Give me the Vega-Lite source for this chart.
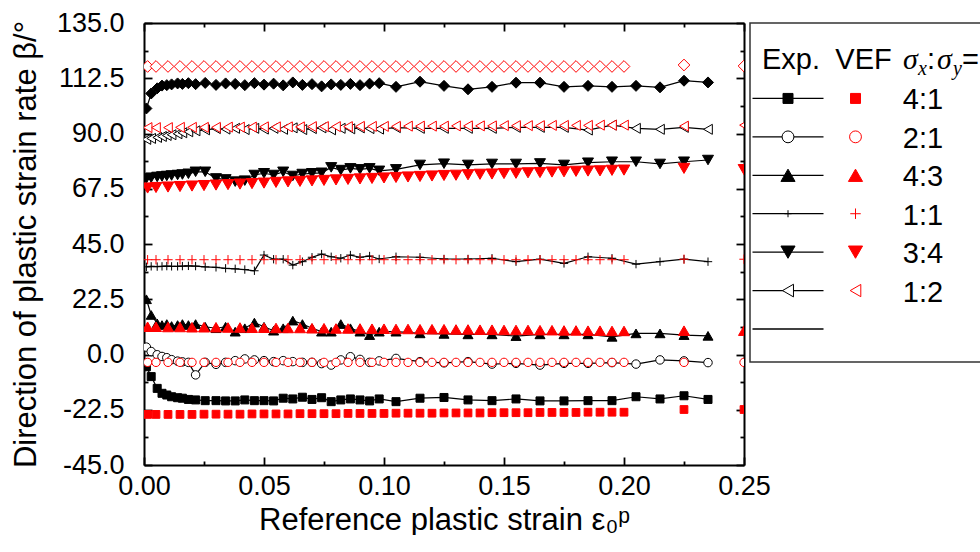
{
"$schema": "https://vega.github.io/schema/vega-lite/v6.json",
"background": "white",
"padding": {"left": 10, "top": 9, "right": 0, "bottom": 0},
"spacing": 6,
"bounds": "flush",
"config": {
  "view": {"stroke": null},
  "font": "Liberation Sans",
  "axis": {"domainColor": "black", "domainWidth": 2, "tickColor": "black", "tickWidth": 1.8, "grid": false,
           "labelFont": "Liberation Sans", "labelFontSize": 27, "labelColor": "black",
           "titleFont": "Liberation Sans", "titleFontSize": 31, "titleFontWeight": "normal", "titleColor": "black",
           "labelOverlap": false, "labelFlush": false, "zindex": 1},
  "text": {"font": "Liberation Sans", "color": "black"}
},
"datasets": {
  "exp": [
    {"x":0.001,"4:1":-5,"2:1":3.0,"4:3":22.5,"1:1":35.7,"3:4":71.7,"1:2":87.6,"other":100.2},
    {"x":0.003,"4:1":-9.0,"2:1":1.2,"4:3":16.1,"1:1":35.9,"3:4":72.0,"1:2":88.0,"other":106.3},
    {"x":0.0055,"4:1":-13.8,"2:1":-0.1,"4:3":12.7,"1:1":35.8,"3:4":72.3,"1:2":88.4,"other":108.4},
    {"x":0.0075,"4:1":-15.8,"2:1":-0.8,"4:3":12.0,"1:1":35.9,"3:4":72.5,"1:2":88.8,"other":109.5},
    {"x":0.0095,"4:1":-16.5,"2:1":-1.3,"4:3":12.4,"1:1":36.0,"3:4":72.7,"1:2":89.2,"other":109.7},
    {"x":0.0115,"4:1":-17.2,"2:1":-2.1,"4:3":11.6,"1:1":35.9,"3:4":72.9,"1:2":89.5,"other":110.0},
    {"x":0.014,"4:1":-17.6,"2:1":-2.7,"4:3":12.0,"1:1":35.9,"3:4":73.1,"1:2":89.9,"other":110.4},
    {"x":0.016,"4:1":-17.8,"2:1":-3.0,"4:3":12.4,"1:1":36.0,"3:4":73.3,"1:2":90.3,"other":110.2},
    {"x":0.0185,"4:1":-18.3,"2:1":-3.2,"4:3":12.0,"1:1":36.1,"3:4":73.6,"1:2":90.7,"other":110.5},
    {"x":0.0215,"4:1":-18.5,"2:1":-8.3,"4:3":12.4,"1:1":36.0,"3:4":74.4,"1:2":91.1,"other":110.1},
    {"x":0.0255,"4:1":-18.8,"2:1":-3.2,"4:3":11.3,"1:1":35.7,"3:4":74.4,"1:2":91.5,"other":110.6},
    {"x":0.030,"4:1":-18.8,"2:1":-4.0,"4:3":10.7,"1:1":35.5,"3:4":71.7,"1:2":92.0,"other":109.8},
    {"x":0.034,"4:1":-18.9,"2:1":-3.2,"4:3":11.3,"1:1":35.1,"3:4":71.3,"1:2":91.8,"other":110.4},
    {"x":0.038,"4:1":-18.9,"2:1":-2.5,"4:3":9.3,"1:1":34.9,"3:4":70.4,"1:2":92.1,"other":110.2},
    {"x":0.042,"4:1":-18.5,"2:1":-1.8,"4:3":10.7,"1:1":34.6,"3:4":70.8,"1:2":91.6,"other":109.7},
    {"x":0.046,"4:1":-18.8,"2:1":-2.2,"4:3":13.0,"1:1":34.1,"3:4":73.1,"1:2":92.1,"other":110.5},
    {"x":0.050,"4:1":-18.8,"2:1":-2.5,"4:3":11.3,"1:1":40.5,"3:4":73.8,"1:2":91.8,"other":109.9},
    {"x":0.054,"4:1":-18.9,"2:1":-2.9,"4:3":9.7,"1:1":38.8,"3:4":73.1,"1:2":92.1,"other":110.3},
    {"x":0.058,"4:1":-17.8,"2:1":-2.5,"4:3":10.7,"1:1":38.8,"3:4":74.4,"1:2":91.7,"other":109.6},
    {"x":0.062,"4:1":-18.1,"2:1":-2.9,"4:3":13.8,"1:1":36.4,"3:4":72.7,"1:2":92.3,"other":110.8},
    {"x":0.066,"4:1":-17.4,"2:1":-3.2,"4:3":12.4,"1:1":37.8,"3:4":73.5,"1:2":91.6,"other":109.8},
    {"x":0.070,"4:1":-18.3,"2:1":-3.2,"4:3":10.7,"1:1":39.6,"3:4":73.8,"1:2":92.0,"other":110.1},
    {"x":0.074,"4:1":-17.6,"2:1":-3.7,"4:3":9.3,"1:1":40.9,"3:4":74.0,"1:2":92.3,"other":109.2},
    {"x":0.078,"4:1":-19.2,"2:1":-4.3,"4:3":9.3,"1:1":39.8,"3:4":76.2,"1:2":91.5,"other":110.0},
    {"x":0.082,"4:1":-18.5,"2:1":-2.2,"4:3":12.4,"1:1":39.2,"3:4":75.1,"1:2":92.1,"other":109.8},
    {"x":0.086,"4:1":-18.1,"2:1":-0.9,"4:3":10.7,"1:1":40.5,"3:4":75.8,"1:2":91.9,"other":110.2},
    {"x":0.090,"4:1":-18.5,"2:1":-2.0,"4:3":9.3,"1:1":39.6,"3:4":75.4,"1:2":92.3,"other":109.7},
    {"x":0.094,"4:1":-18.9,"2:1":-3.2,"4:3":7.9,"1:1":40.1,"3:4":75.8,"1:2":92.0,"other":110.3},
    {"x":0.098,"4:1":-18.1,"2:1":-2.6,"4:3":9.3,"1:1":38.9,"3:4":74.8,"1:2":91.8,"other":110.5},
    {"x":0.105,"4:1":-19.2,"2:1":-1.6,"4:3":9.3,"1:1":39.8,"3:4":75.4,"1:2":92.4,"other":109.0},
    {"x":0.115,"4:1":-17.8,"2:1":-2.9,"4:3":8.6,"1:1":39.6,"3:4":77.2,"1:2":92.1,"other":111.1},
    {"x":0.125,"4:1":-17.5,"2:1":-3.4,"4:3":8.4,"1:1":38.9,"3:4":77.7,"1:2":92.1,"other":109.4},
    {"x":0.135,"4:1":-18.5,"2:1":-2.9,"4:3":8.2,"1:1":38.9,"3:4":77.2,"1:2":92.1,"other":108.0},
    {"x":0.145,"4:1":-18.8,"2:1":-3.9,"4:3":8.2,"1:1":39.2,"3:4":77.6,"1:2":92.1,"other":109.0},
    {"x":0.155,"4:1":-18.1,"2:1":-3.6,"4:3":7.5,"1:1":37.8,"3:4":77.6,"1:2":92.5,"other":110.7},
    {"x":0.165,"4:1":-18.9,"2:1":-4.3,"4:3":8.2,"1:1":38.8,"3:4":77.8,"1:2":92.5,"other":110.7},
    {"x":0.175,"4:1":-18.9,"2:1":-3.6,"4:3":8.2,"1:1":37.1,"3:4":77.2,"1:2":92.5,"other":109.0},
    {"x":0.185,"4:1":-18.8,"2:1":-3.6,"4:3":8.2,"1:1":39.8,"3:4":78.1,"1:2":91.4,"other":109.4},
    {"x":0.195,"4:1":-18.8,"2:1":-3.3,"4:3":7.2,"1:1":39.2,"3:4":78.5,"1:2":93.4,"other":109.0},
    {"x":0.205,"4:1":-17.2,"2:1":-3.9,"4:3":8.6,"1:1":36.8,"3:4":78.5,"1:2":92.1,"other":109.4},
    {"x":0.215,"4:1":-18.1,"2:1":-2.2,"4:3":8.6,"1:1":37.8,"3:4":77.6,"1:2":91.7,"other":108.8},
    {"x":0.225,"4:1":-16.8,"2:1":-2.6,"4:3":7.9,"1:1":38.8,"3:4":78.5,"1:2":92.5,"other":111.5},
    {"x":0.235,"4:1":-18.3,"2:1":-3.3,"4:3":7.6,"1:1":37.8,"3:4":79.2,"1:2":91.7,"other":110.8}
  ],
  "vef": [
    {"x":0.0015,"4:1":-24.4,"2:1":-3.2,"4:3":11.3,"1:1":38.6,"3:4":67.8,"1:2":92.4,"other":117.3},
    {"x":0.005,"4:1":-24.4,"2:1":-3.2,"4:3":11.3,"1:1":38.6,"3:4":68.0,"1:2":92.4,"other":117.3},
    {"x":0.01,"4:1":-24.4,"2:1":-3.2,"4:3":11.2,"1:1":38.6,"3:4":68.2,"1:2":92.4,"other":117.3},
    {"x":0.015,"4:1":-24.4,"2:1":-3.2,"4:3":11.2,"1:1":38.6,"3:4":68.4,"1:2":92.5,"other":117.3},
    {"x":0.02,"4:1":-24.4,"2:1":-3.2,"4:3":11.1,"1:1":38.6,"3:4":68.6,"1:2":92.5,"other":117.3},
    {"x":0.025,"4:1":-24.3,"2:1":-3.2,"4:3":11.1,"1:1":38.6,"3:4":68.8,"1:2":92.5,"other":117.3},
    {"x":0.03,"4:1":-24.3,"2:1":-3.2,"4:3":11.1,"1:1":38.6,"3:4":69.0,"1:2":92.5,"other":117.3},
    {"x":0.035,"4:1":-24.3,"2:1":-3.2,"4:3":11.0,"1:1":38.6,"3:4":69.2,"1:2":92.6,"other":117.3},
    {"x":0.04,"4:1":-24.3,"2:1":-3.2,"4:3":11.0,"1:1":38.6,"3:4":69.4,"1:2":92.6,"other":117.3},
    {"x":0.045,"4:1":-24.2,"2:1":-3.2,"4:3":10.9,"1:1":38.6,"3:4":69.6,"1:2":92.6,"other":117.3},
    {"x":0.05,"4:1":-24.2,"2:1":-3.2,"4:3":10.9,"1:1":38.6,"3:4":69.8,"1:2":92.7,"other":117.3},
    {"x":0.055,"4:1":-24.2,"2:1":-3.2,"4:3":10.8,"1:1":38.6,"3:4":70.1,"1:2":92.7,"other":117.3},
    {"x":0.06,"4:1":-24.2,"2:1":-3.2,"4:3":10.8,"1:1":38.6,"3:4":70.3,"1:2":92.7,"other":117.3},
    {"x":0.065,"4:1":-24.1,"2:1":-3.2,"4:3":10.8,"1:1":38.6,"3:4":70.5,"1:2":92.7,"other":117.3},
    {"x":0.07,"4:1":-24.1,"2:1":-3.2,"4:3":10.7,"1:1":38.6,"3:4":70.7,"1:2":92.8,"other":117.3},
    {"x":0.075,"4:1":-24.1,"2:1":-3.2,"4:3":10.7,"1:1":38.6,"3:4":70.9,"1:2":92.8,"other":117.3},
    {"x":0.08,"4:1":-24.1,"2:1":-3.2,"4:3":10.6,"1:1":38.6,"3:4":71.1,"1:2":92.8,"other":117.3},
    {"x":0.085,"4:1":-24.0,"2:1":-3.2,"4:3":10.6,"1:1":38.6,"3:4":71.3,"1:2":92.8,"other":117.3},
    {"x":0.09,"4:1":-24.0,"2:1":-3.2,"4:3":10.6,"1:1":38.6,"3:4":71.5,"1:2":92.9,"other":117.3},
    {"x":0.095,"4:1":-24.0,"2:1":-3.2,"4:3":10.5,"1:1":38.6,"3:4":71.7,"1:2":92.9,"other":117.3},
    {"x":0.1,"4:1":-24.0,"2:1":-3.2,"4:3":10.5,"1:1":38.6,"3:4":71.9,"1:2":92.9,"other":117.3},
    {"x":0.105,"4:1":-23.9,"2:1":-3.2,"4:3":10.4,"1:1":38.6,"3:4":72.1,"1:2":92.9,"other":117.3},
    {"x":0.11,"4:1":-23.9,"2:1":-3.2,"4:3":10.4,"1:1":38.6,"3:4":72.3,"1:2":93.0,"other":117.3},
    {"x":0.115,"4:1":-23.9,"2:1":-3.2,"4:3":10.3,"1:1":38.6,"3:4":72.5,"1:2":93.0,"other":117.3},
    {"x":0.12,"4:1":-23.9,"2:1":-3.2,"4:3":10.3,"1:1":38.6,"3:4":72.7,"1:2":93.0,"other":117.3},
    {"x":0.125,"4:1":-23.8,"2:1":-3.2,"4:3":10.3,"1:1":38.6,"3:4":72.9,"1:2":93.0,"other":117.3},
    {"x":0.13,"4:1":-23.8,"2:1":-3.2,"4:3":10.2,"1:1":38.6,"3:4":73.0,"1:2":93.1,"other":117.3},
    {"x":0.135,"4:1":-23.8,"2:1":-3.2,"4:3":10.2,"1:1":38.6,"3:4":73.2,"1:2":93.1,"other":117.3},
    {"x":0.14,"4:1":-23.8,"2:1":-3.2,"4:3":10.1,"1:1":38.6,"3:4":73.4,"1:2":93.1,"other":117.3},
    {"x":0.145,"4:1":-23.7,"2:1":-3.2,"4:3":10.1,"1:1":38.6,"3:4":73.5,"1:2":93.1,"other":117.3},
    {"x":0.15,"4:1":-23.7,"2:1":-3.2,"4:3":10.0,"1:1":38.6,"3:4":73.7,"1:2":93.2,"other":117.3},
    {"x":0.155,"4:1":-23.7,"2:1":-3.2,"4:3":10.0,"1:1":38.6,"3:4":73.8,"1:2":93.2,"other":117.3},
    {"x":0.16,"4:1":-23.7,"2:1":-3.2,"4:3":10.0,"1:1":38.6,"3:4":74.0,"1:2":93.2,"other":117.3},
    {"x":0.165,"4:1":-23.6,"2:1":-3.2,"4:3":9.9,"1:1":38.6,"3:4":74.1,"1:2":93.2,"other":117.3},
    {"x":0.17,"4:1":-23.6,"2:1":-3.2,"4:3":9.9,"1:1":38.6,"3:4":74.3,"1:2":93.3,"other":117.3},
    {"x":0.175,"4:1":-23.6,"2:1":-3.2,"4:3":9.8,"1:1":38.6,"3:4":74.4,"1:2":93.3,"other":117.3},
    {"x":0.18,"4:1":-23.6,"2:1":-3.2,"4:3":9.8,"1:1":38.6,"3:4":74.6,"1:2":93.3,"other":117.3},
    {"x":0.185,"4:1":-23.5,"2:1":-3.2,"4:3":9.7,"1:1":38.6,"3:4":74.7,"1:2":93.3,"other":117.3},
    {"x":0.19,"4:1":-23.5,"2:1":-3.2,"4:3":9.7,"1:1":38.6,"3:4":74.8,"1:2":93.4,"other":117.3},
    {"x":0.195,"4:1":-23.5,"2:1":-3.2,"4:3":9.6,"1:1":38.6,"3:4":75.0,"1:2":93.4,"other":117.3},
    {"x":0.2,"4:1":-23.5,"2:1":-3.2,"4:3":9.6,"1:1":38.6,"3:4":75.1,"1:2":93.4,"other":117.3},
    {"x":0.225,"4:1":-22.4,"2:1":-3.2,"4:3":9.7,"1:1":38.8,"3:4":75.8,"1:2":93.0,"other":117.9},
    {"x":0.25,"4:1":-22.4,"2:1":-3.2,"4:3":9.7,"1:1":38.8,"3:4":75.3,"1:2":93.4,"other":117.5}
  ],
  "leg": [
    {"r":"4:1"},{"r":"2:1"},{"r":"4:3"},{"r":"1:1"},{"r":"3:4"},{"r":"1:2"},{"r":"other"}
  ]
},
"hconcat": [
  {
    "width": 600, "height": 442,
    "layer": [
      {
        "data": {"name": "exp"},
        "transform": [{"fold": ["4:1","2:1","4:3","1:1","3:4","1:2","other"], "as": ["r","beta"]}],
        "mark": {"type": "line", "color": "black", "strokeWidth": 1.2, "clip": true},
        "encoding": {
          "x": {"field": "x", "type": "quantitative", "scale": {"domain": [0,0.25], "nice": false, "zero": false},
                "axis": {"orient": "bottom", "values": [0,0.025,0.05,0.075,0.1,0.125,0.15,0.175,0.2,0.225,0.25],
                         "labelExpr": "abs(datum.value*20-round(datum.value*20))<0.001 ? format(datum.value,'.2f') : ''",
                         "tickSize": {"condition": {"test": "abs(datum.value*20-round(datum.value*20))<0.001", "value": -8}, "value": -4},
                         "labelPadding": 16, "title": "Reference plastic strain ε₀ᵖ", "titlePadding": 2}},
          "y": {"field": "beta", "type": "quantitative", "scale": {"domain": [-45,135], "nice": false, "zero": false},
                "axis": {"orient": "left", "values": [-45,-33.75,-22.5,-11.25,0,11.25,22.5,33.75,45,56.25,67.5,78.75,90,101.25,112.5,123.75,135],
                         "labelExpr": "abs(datum.value/22.5-round(datum.value/22.5))<0.001 ? replace(format(datum.value,'.1f'),'−','-') : ''",
                         "tickSize": {"condition": {"test": "abs(datum.value/22.5-round(datum.value/22.5))<0.001", "value": -8}, "value": -4},
                         "labelPadding": 28, "title": "Direction of plastic strain rate β/°", "titlePadding": 14}},
          "detail": {"field": "r", "type": "nominal"}
        }
      },
      {
        "data": {"name": "exp"},
        "transform": [{"fold": ["4:1","2:1","4:3","1:1","3:4","1:2","other"], "as": ["r","beta"]}],
        "mark": {"type": "point", "filled": true, "stroke": "black", "strokeWidth": 1, "opacity": 1, "clip": true},
        "encoding": {
          "x": {"field": "x", "type": "quantitative", "scale": {"domain": [0,0.25], "nice": false, "zero": false}, "axis": null},
          "y": {"field": "beta", "type": "quantitative", "scale": {"domain": [-45,135], "nice": false, "zero": false}, "axis": null},
          "shape": {"field": "r", "type": "nominal", "legend": null, "scale": {"domain": ["4:1","2:1","4:3","1:1","3:4","1:2","other"], "range": ["square","circle","triangle-up","M-1,0H1M0,-1V1","triangle-down","triangle-left","diamond"]}},
          "fill": {"field": "r", "type": "nominal", "legend": null, "scale": {"domain": ["4:1","2:1","4:3","1:1","3:4","1:2","other"], "range": ["black","white","black","transparent","black","white","black"]}},
          "size": {"field": "r", "type": "nominal", "legend": null, "scale": {"type": "ordinal", "domain": ["4:1","2:1","4:3","1:1","3:4","1:2","other"], "range": [64,72,100,70,121,100,121]}}
        }
      },
      {
        "data": {"name": "vef"},
        "transform": [{"fold": ["4:1","2:1","4:3","1:1","3:4","1:2","other"], "as": ["r","beta"]}],
        "mark": {"type": "point", "filled": true, "stroke": "red", "strokeWidth": 1, "opacity": 1, "clip": true},
        "encoding": {
          "x": {"field": "x", "type": "quantitative", "scale": {"domain": [0,0.25], "nice": false, "zero": false}, "axis": null},
          "y": {"field": "beta", "type": "quantitative", "scale": {"domain": [-45,135], "nice": false, "zero": false}, "axis": null},
          "shape": {"field": "r", "type": "nominal", "legend": null, "scale": {"domain": ["4:1","2:1","4:3","1:1","3:4","1:2","other"], "range": ["square","circle","triangle-up","M-1,0H1M0,-1V1","triangle-down","triangle-left","diamond"]}},
          "fill": {"field": "r", "type": "nominal", "legend": null, "scale": {"domain": ["4:1","2:1","4:3","1:1","3:4","1:2","other"], "range": ["red","white","red","transparent","red","white","white"]}},
          "size": {"field": "r", "type": "nominal", "legend": null, "scale": {"type": "ordinal", "domain": ["4:1","2:1","4:3","1:1","3:4","1:2","other"], "range": [60,70,121,87,137,100,137]}}
        }
      },
      {
        "data": {"name": "vef"},
        "mark": {"type": "point", "opacity": 0},
        "encoding": {
          "x": {"field": "x", "type": "quantitative", "scale": {"domain": [0,0.25], "nice": false, "zero": false},
                "axis": {"orient": "top", "values": [0,0.025,0.05,0.075,0.1,0.125,0.15,0.175,0.2,0.225,0.25], "labels": false, "title": null, "minExtent": 0,
                         "tickSize": {"condition": {"test": "abs(datum.value*20-round(datum.value*20))<0.001", "value": -8}, "value": -4}}},
          "y": {"field": "1:1", "type": "quantitative", "scale": {"domain": [-45,135], "nice": false, "zero": false},
                "axis": {"orient": "right", "values": [-45,-33.75,-22.5,-11.25,0,11.25,22.5,33.75,45,56.25,67.5,78.75,90,101.25,112.5,123.75,135], "labels": false, "title": null, "minExtent": 0,
                         "tickSize": {"condition": {"test": "abs(datum.value/22.5-round(datum.value/22.5))<0.001", "value": -8}, "value": -4}}}
        }
      }
    ],
    "resolve": {"axis": {"x": "independent", "y": "independent"}, "scale": {"fill": "independent", "size": "independent"}}
  },
  {
    "width": 240, "height": 339,
    "view": {"stroke": "#333333", "strokeWidth": 1.5},
    "data": {"name": "leg"},
    "encoding": {
      "y": {"field": "r", "type": "nominal", "axis": null, "scale": {"type": "point", "domain": ["head","4:1","2:1","4:3","1:1","3:4","1:2","other"], "range": [37,306], "padding": 0}}
    },
    "layer": [
      {
        "mark": {"type": "tick", "orient": "horizontal", "size": 71, "thickness": 1.3, "color": "black", "opacity": 1},
        "encoding": {"x": {"datum": "Exp", "type": "nominal", "axis": null, "scale": {"type": "point", "domain": ["Exp","VEF","label"], "range": [38,173], "padding": 0}}}
      },
      {
        "transform": [{"filter": "datum.r !== 'other'"}],
        "mark": {"type": "point", "filled": true, "stroke": "black", "strokeWidth": 1, "opacity": 1},
        "encoding": {
          "x": {"datum": "Exp", "type": "nominal", "axis": null, "scale": {"type": "point", "domain": ["Exp","VEF","label"], "range": [38,173], "padding": 0}},
          "shape": {"field": "r", "type": "nominal", "legend": null, "scale": {"domain": ["4:1","2:1","4:3","1:1","3:4","1:2","other"], "range": ["square","circle","triangle-up","M-1,0H1M0,-1V1","triangle-down","triangle-left","diamond"]}},
          "fill": {"field": "r", "type": "nominal", "legend": null, "scale": {"domain": ["4:1","2:1","4:3","1:1","3:4","1:2","other"], "range": ["black","white","black","transparent","black","white","black"]}},
          "size": {"field": "r", "type": "nominal", "legend": null, "scale": {"type": "ordinal", "domain": ["4:1","2:1","4:3","1:1","3:4","1:2","other"], "range": [100,140,200,50,200,160,120]}}
        }
      },
      {
        "transform": [{"filter": "datum.r !== 'other'"}],
        "mark": {"type": "point", "filled": true, "stroke": "red", "strokeWidth": 1, "opacity": 1},
        "encoding": {
          "x": {"datum": "VEF", "type": "nominal", "axis": null, "scale": {"type": "point", "domain": ["Exp","VEF","label"], "range": [38,173], "padding": 0}},
          "shape": {"field": "r", "type": "nominal", "legend": null, "scale": {"domain": ["4:1","2:1","4:3","1:1","3:4","1:2","other"], "range": ["square","circle","triangle-up","M-1,0H1M0,-1V1","triangle-down","triangle-left","diamond"]}},
          "fill": {"field": "r", "type": "nominal", "legend": null, "scale": {"domain": ["4:1","2:1","4:3","1:1","3:4","1:2","other"], "range": ["red","white","red","transparent","red","white","white"]}},
          "size": {"field": "r", "type": "nominal", "legend": null, "scale": {"type": "ordinal", "domain": ["4:1","2:1","4:3","1:1","3:4","1:2","other"], "range": [100,140,200,110,200,150,120]}}
        }
      },
      {
        "transform": [{"filter": "datum.r !== 'other'"}],
        "mark": {"type": "text", "fontSize": 29, "align": "center", "baseline": "middle", "dy": 2},
        "encoding": {
          "x": {"datum": "label", "type": "nominal", "axis": null, "scale": {"type": "point", "domain": ["Exp","VEF","label"], "range": [38,173], "padding": 0}},
          "text": {"field": "r", "type": "nominal"}
        }
      },
      {
        "data": {"values": [{}]},
        "mark": {"type": "text", "text": "Exp.", "fontSize": 29, "align": "center", "baseline": "middle", "dx": 3},
        "encoding": {
          "x": {"datum": "Exp", "type": "nominal", "axis": null, "scale": {"type": "point", "domain": ["Exp","VEF","label"], "range": [38,173], "padding": 0}},
          "y": {"datum": "head", "type": "nominal", "axis": null}
        }
      },
      {
        "data": {"values": [{}]},
        "mark": {"type": "text", "text": "VEF", "fontSize": 29, "align": "center", "baseline": "middle", "dx": 8},
        "encoding": {
          "x": {"datum": "VEF", "type": "nominal", "axis": null, "scale": {"type": "point", "domain": ["Exp","VEF","label"], "range": [38,173], "padding": 0}},
          "y": {"datum": "head", "type": "nominal", "axis": null}
        }
      },
      {
        "data": {"values": [{}]},
        "mark": {"type": "text", "text": "σ", "font": "Liberation Serif", "fontStyle": "italic", "fontSize": 30, "align": "left", "baseline": "middle", "dx": -20},
        "encoding": {
          "x": {"datum": "label", "type": "nominal", "axis": null, "scale": {"type": "point", "domain": ["Exp","VEF","label"], "range": [38,173], "padding": 0}},
          "y": {"datum": "head", "type": "nominal", "axis": null}
        }
      },
      {
        "data": {"values": [{}]},
        "mark": {"type": "text", "text": "x", "font": "Liberation Serif", "fontStyle": "italic", "fontSize": 20, "align": "left", "baseline": "middle", "dx": -5, "dy": 9},
        "encoding": {
          "x": {"datum": "label", "type": "nominal", "axis": null, "scale": {"type": "point", "domain": ["Exp","VEF","label"], "range": [38,173], "padding": 0}},
          "y": {"datum": "head", "type": "nominal", "axis": null}
        }
      },
      {
        "data": {"values": [{}]},
        "mark": {"type": "text", "text": ":", "fontSize": 29, "align": "left", "baseline": "middle", "dx": 4},
        "encoding": {
          "x": {"datum": "label", "type": "nominal", "axis": null, "scale": {"type": "point", "domain": ["Exp","VEF","label"], "range": [38,173], "padding": 0}},
          "y": {"datum": "head", "type": "nominal", "axis": null}
        }
      },
      {
        "data": {"values": [{}]},
        "mark": {"type": "text", "text": "σ", "font": "Liberation Serif", "fontStyle": "italic", "fontSize": 30, "align": "left", "baseline": "middle", "dx": 14},
        "encoding": {
          "x": {"datum": "label", "type": "nominal", "axis": null, "scale": {"type": "point", "domain": ["Exp","VEF","label"], "range": [38,173], "padding": 0}},
          "y": {"datum": "head", "type": "nominal", "axis": null}
        }
      },
      {
        "data": {"values": [{}]},
        "mark": {"type": "text", "text": "y", "font": "Liberation Serif", "fontStyle": "italic", "fontSize": 20, "align": "left", "baseline": "middle", "dx": 30, "dy": 9},
        "encoding": {
          "x": {"datum": "label", "type": "nominal", "axis": null, "scale": {"type": "point", "domain": ["Exp","VEF","label"], "range": [38,173], "padding": 0}},
          "y": {"datum": "head", "type": "nominal", "axis": null}
        }
      },
      {
        "data": {"values": [{}]},
        "mark": {"type": "text", "text": "=", "fontSize": 29, "align": "left", "baseline": "middle", "dx": 39},
        "encoding": {
          "x": {"datum": "label", "type": "nominal", "axis": null, "scale": {"type": "point", "domain": ["Exp","VEF","label"], "range": [38,173], "padding": 0}},
          "y": {"datum": "head", "type": "nominal", "axis": null}
        }
      }
    ],
    "resolve": {"scale": {"fill": "independent", "size": "independent"}}
  }
],
"resolve": {"scale": {"x": "independent", "y": "independent", "shape": "independent", "fill": "independent", "size": "independent"}}
}
